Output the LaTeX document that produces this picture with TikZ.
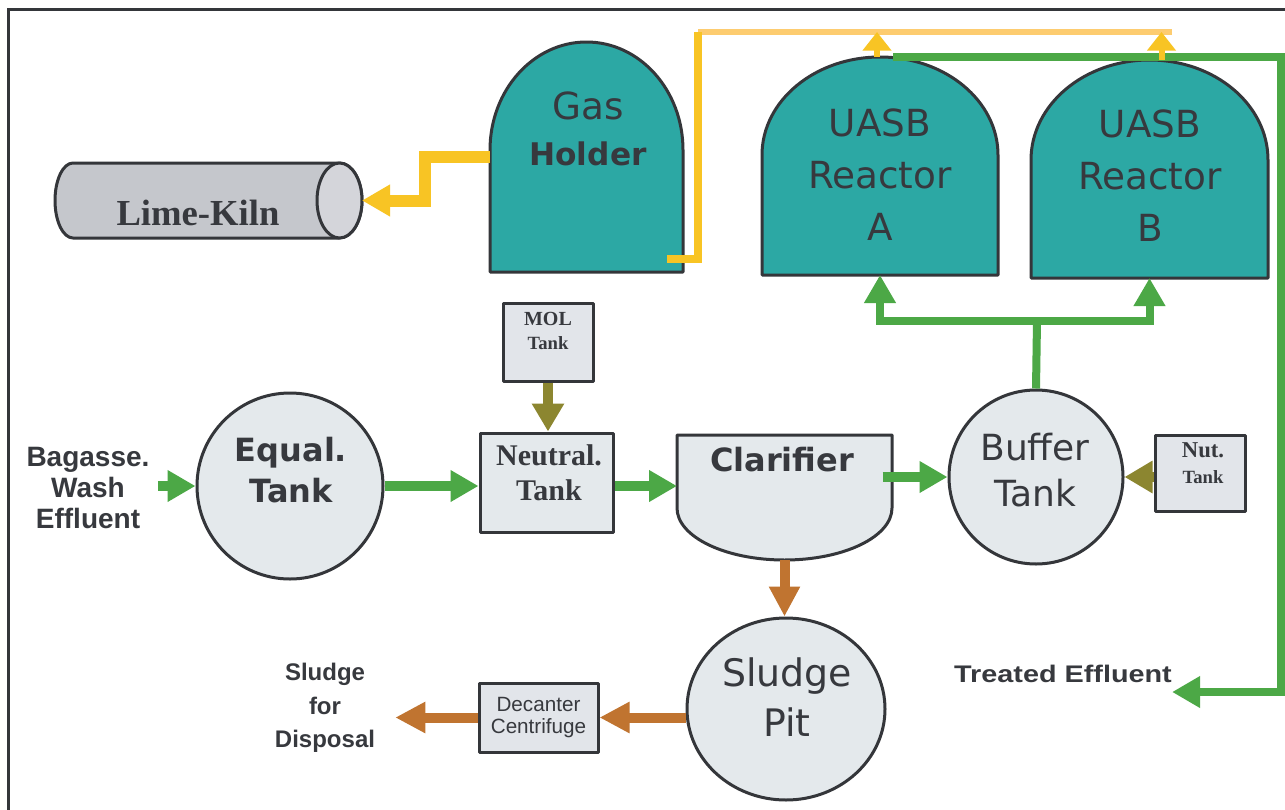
\documentclass[tikz,border=0pt]{standalone}
\usepackage{fontspec}
\setmainfont{Liberation Serif}
\newfontfamily\tah{DejaVu Sans}
\newfontfamily\ari{Liberation Sans}
\usetikzlibrary{arrows.meta,shapes.geometric}
\definecolor{teal1}{RGB}{44,168,164}
\definecolor{outl}{RGB}{52,54,58}
\definecolor{txt}{RGB}{55,57,62}
\definecolor{pale}{RGB}{228,233,236}
\definecolor{palebox}{RGB}{226,229,234}
\definecolor{grn}{RGB}{76,168,70}
\definecolor{olv}{RGB}{140,134,48}
\definecolor{brn}{RGB}{192,116,48}
\definecolor{ylw}{RGB}{248,196,36}
\definecolor{ylt}{RGB}{253,204,112}
\definecolor{kilnc}{RGB}{197,199,204}
\definecolor{kilnend}{RGB}{212,213,218}
\begin{document}
\begin{tikzpicture}[x=0.75pt,y=-0.75pt,
  outlined/.style={draw=outl, line width=2.25pt, line join=round},
  tealshape/.style={outlined, fill=teal1},
  ghost/.style={inner sep=0pt, outer sep=0pt, draw=none},
  tx/.style={text=txt, align=center, inner sep=0pt},
  tank/.style={outlined, fill=pale, inner sep=0pt},
  pbox/.style={rectangle, outlined, fill=palebox, inner sep=0pt},
  garrow/.style={draw=grn, line width=7.5pt, -{Triangle[length=21pt,width=22.5pt]}},
  garrowthin/.style={draw=grn, line width=6pt, -{Triangle[length=21pt,width=22.5pt]}},
  gline/.style={draw=grn, line width=6pt},
  oarrow/.style={draw=olv, line width=7.5pt, -{Triangle[length=21pt,width=23pt]}},
  barrow/.style={draw=brn, line width=7.5pt, -{Triangle[length=22.5pt,width=22pt]}},
  yarrow/.style={draw=ylw, line width=9pt, -{Triangle[length=21pt,width=22.5pt]}},
  ysmall/.style={draw=ylw, line width=4.5pt, -{Triangle[length=14pt,width=21pt]}},
  yline/.style={draw=ylw, line width=5.5pt},
  ylight/.style={draw=ylt, line width=4pt},
]
\useasboundingbox (0,0) rectangle (1285,810);
\fill[white] (0,0) rectangle (1285,810);
% frame
\draw[outl, line width=2.25pt] (8,810) -- (8,9) -- (1285,9);

% Lime kiln
\path[outlined, fill=kilnc] (73,163) -- (339.5,163)
  arc[start angle=90, end angle=-90, x radius=16.875pt, y radius=28.125pt]
  -- (73,238)
  arc[start angle=270, end angle=90, x radius=13.5pt, y radius=28.125pt] -- cycle;
\path[outlined, fill=kilnend] (339.5,200.5) ellipse [x radius=16.875pt, y radius=28.125pt];
\node[ghost, minimum width=230.25pt, minimum height=56.25pt] (kiln) at (208.5,200.5) {};
\node[tx, font=\bfseries\fontsize{27.5}{30}\selectfont] (kilnt) at (198,213) {Lime-Kiln};

% Gas holder
\path[tealshape] (490,272) -- (490,150)
  arc[start angle=180, end angle=0, x radius=72.375pt, y radius=81pt] -- (683,272) -- cycle;
\node[ghost, minimum width=144.75pt, minimum height=172.5pt] (gas) at (586.5,157) {};
\node[tx, font=\tah\fontsize{28}{35}\selectfont] (gast) at (588,129) {Gas\\{\bfseries\fontsize{23.4}{35}\selectfont Holder}};

% UASB reactors
\path[tealshape] (762,275) -- (762,155)
  arc[start angle=180, end angle=0, x radius=88.5pt, y radius=73.5pt] -- (998,275) -- cycle;
\node[ghost, minimum width=177pt, minimum height=163.5pt] (reaA) at (880,166) {};
\node[tx, font=\tah\fontsize{28}{39}\selectfont] (reaAt) at (880,175) {UASB\\Reactor\\A};

\path[tealshape] (1031,278) -- (1031,160)
  arc[start angle=180, end angle=0, x radius=88.875pt, y radius=75pt] -- (1268,278) -- cycle;
\node[ghost, minimum width=177.75pt, minimum height=163.5pt] (reaB) at (1149.5,169) {};
\node[tx, font=\tah\fontsize{28}{39}\selectfont] (reaBt) at (1150,176) {UASB\\Reactor\\B};

% Tanks
\node[circle, tank, minimum size=139.5pt] (eq) at (290,486) {};
\node[tx, font=\tah\bfseries\fontsize{24}{31}\selectfont] (eqt) at (291,470) {Equal.\\Tank};

\node[pbox, fill=palebox, minimum width=67.5pt, minimum height=58.5pt] (mol) at (548,342) {};
\node[tx, font=\bfseries\fontsize{15}{18}\selectfont] (molt) at (548,331) {MOL\\{\fontsize{14}{18}\selectfont Tank}};

\node[pbox, fill=pale, minimum width=99.75pt, minimum height=74.25pt] (neu) at (546.5,482.5) {};
\node[tx, font=\bfseries\fontsize{22.5}{26}\selectfont] (neut) at (549,472.5) {Neutral.\\Tank};

\path[outlined, fill=pale] (677,435) -- (892,435) -- (892,508)
  arc[start angle=0, end angle=-180, x radius=80.625pt, y radius=39pt] -- cycle;
\node[ghost, minimum width=161.25pt, minimum height=93.75pt] (cla) at (784.5,497.5) {};
\node[tx, font=\tah\bfseries\fontsize{24}{30}\selectfont] (clat) at (782,460) {Clarifier};

\node[circle, tank, minimum size=130.5pt] (buf) at (1036,477) {};
\node[tx, font=\tah\fontsize{27}{34.5}\selectfont] (buft) at (1035,470) {Buffer\\Tank};

\node[pbox, minimum width=67.5pt, minimum height=57pt] (nut) at (1200,473) {};
\node[tx, font=\bfseries\fontsize{17}{20}\selectfont] (nutt) at (1203,463) {Nut.\\{\fontsize{14}{20}\selectfont Tank}};

\node[ellipse, tank, minimum width=148.5pt, minimum height=136.5pt] (pit) at (786,709) {};
\node[tx, font=\tah\fontsize{28.4}{37.5}\selectfont] (pitt) at (787,697) {Sludge\\Pit};

\node[pbox, fill=palebox, minimum width=89.25pt, minimum height=51.75pt, font=\ari\fontsize{15.5}{16}\selectfont, text=txt, align=center] (dec) at (538.5,717.5) {Decanter\\Centrifuge};

% Labels
\node[tx, font=\ari\bfseries\fontsize{21}{23.25}\selectfont] (bag) at (88,488) {Bagasse.\\Wash\\Effluent};
\node[tx, font=\ari\bfseries\fontsize{18}{25}\selectfont] (disp) at (325,708) {Sludge\\for\\Disposal};
\node[tx, anchor=base, font=\ari\bfseries\fontsize{18}{20}\selectfont] (te) at (1063,682) {\scalebox{1.2}[1]{Treated Effluent}};

% Green flow
\draw[garrow, shorten <=6pt] (bag.east |- eq.west) -- (eq.west);
\draw[garrow] (eq.east) -- (eq.east -| neu.west);
\draw[garrow] (neu.east |- eq.east) -- (cla.west |- eq.east);
\draw[garrow, shorten <=-7pt] (cla.east |- buf.west) -- (buf.west);
\coordinate (split) at (1037,321);
\draw[gline] (buf.north) -- (split);
\draw[garrowthin] (split) -| (reaA.south);
\draw[garrowthin] (split) -| (reaB.south);
\coordinate (outc) at (1281,692);
\draw[garrowthin] ([xshift=9.75pt]reaA.north) -| (outc) -- (outc -| te.east);

% Olive feeds
\draw[oarrow] (mol.south) -- (mol.south |- neu.north);
\draw[oarrow] (nut.west |- buf.east) -- (buf.east);

% Gas lines
\coordinate (g1) at (667,259);
\coordinate (g2) at (698,32);
\coordinate (g3) at (1172,32);
\draw[ylight] (g2) -- (g3);
\draw[yline] (g1) -| (g2);
\draw[ysmall] ([xshift=-2.25pt]reaA.north) -- ([xshift=-2.25pt]reaA.north |- g3);
\draw[ysmall] ([xshift=9pt]reaB.north) -- ([xshift=9pt]reaB.north |- g3);
\coordinate (kb) at (425,180);
\draw[yarrow] (gas.west) -| (kb) |- (kiln.east);

% Sludge line
\draw[barrow] (cla.south) -- (cla.south |- pit.north);
\draw[barrow] (dec.east -| pit.west) -- (dec.east);
\draw[barrow, shorten >=15pt] (dec.west) -- (dec.west -| disp.east);
\end{tikzpicture}
\end{document}
